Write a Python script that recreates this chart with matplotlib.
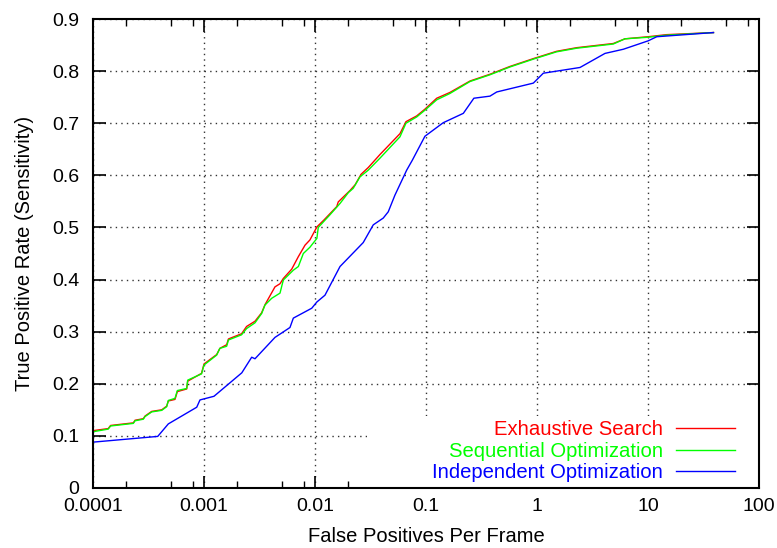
import numpy as np
import matplotlib
matplotlib.use('Agg')
import matplotlib.pyplot as plt
from matplotlib.patches import Rectangle
from matplotlib.ticker import FixedLocator, NullFormatter

plt.rcParams['font.family'] = ['Liberation Sans', 'DejaVu Sans']
plt.rcParams['font.size'] = 14

# exhaustive search
ex_x = [1e-4, 1.37e-4, 1.44e-4, 2.31e-4, 2.39e-4, 2.84e-4, 2.94e-4, 3.38e-4, 4.16e-4, 4.61e-4,
        4.77e-4, 5.48e-4, 5.75e-4, 6.98e-4, 7.13e-4, 9.5e-4, 1.0e-3, 1.3e-3, 1.39e-3, 1.6e-3,
        1.66e-3, 2.18e-3, 2.42e-3, 2.88e-3, 3.3e-3, 3.55e-3, 4.36e-3, 4.84e-3, 5.18e-3, 6.17e-3,
        7.08e-3, 8.13e-3, 9.0e-3, 1.04e-2, 1.2e-2, 1.57e-2, 1.62e-2, 2.07e-2, 2.3e-2, 2.6e-2,
        3.02e-2, 3.85e-2, 5.83e-2, 6.6e-2, 8.24e-2, 9.78e-2, 0.125, 0.164, 0.249, 0.377,
        0.571, 0.927, 1.5, 2.28, 4.87, 6.2, 10, 14.7, 38.9]
ex_y = [0.110, 0.114, 0.120, 0.125, 0.130, 0.133, 0.138, 0.147, 0.150, 0.157,
        0.167, 0.170, 0.185, 0.190, 0.205, 0.220, 0.238, 0.256, 0.268, 0.275,
        0.286, 0.296, 0.310, 0.320, 0.336, 0.352, 0.386, 0.392, 0.402, 0.420,
        0.444, 0.466, 0.476, 0.501, 0.514, 0.540, 0.549, 0.571, 0.582, 0.602,
        0.615, 0.640, 0.680, 0.703, 0.714, 0.727, 0.748, 0.759, 0.781, 0.794,
        0.809, 0.824, 0.838, 0.845, 0.853, 0.862, 0.866, 0.870, 0.874]

# sequential optimization
seq_x = [1e-4, 1.37e-4, 1.44e-4, 2.31e-4, 2.39e-4, 2.84e-4, 2.94e-4, 3.38e-4, 4.16e-4, 4.61e-4,
         4.77e-4, 5.48e-4, 5.75e-4, 6.98e-4, 7.13e-4, 9.5e-4, 1.0e-3, 1.3e-3, 1.39e-3, 1.6e-3,
         1.66e-3, 2.18e-3, 2.42e-3, 2.88e-3, 3.31e-3, 3.54e-3, 4.07e-3, 4.84e-3, 5.18e-3, 6.38e-3,
         7.08e-3, 7.85e-3, 9.0e-3, 1.04e-2, 1.07e-2, 1.36e-2, 1.68e-2, 2.0e-2, 2.21e-2, 2.54e-2,
         3.02e-2, 3.85e-2, 5.83e-2, 6.6e-2, 8.24e-2, 9.78e-2, 0.125, 0.164, 0.249, 0.377,
         0.571, 0.927, 1.5, 2.28, 4.87, 6.2, 10, 14.7, 38.9]
seq_y = [0.108, 0.113, 0.119, 0.124, 0.129, 0.132, 0.137, 0.146, 0.149, 0.156,
         0.168, 0.172, 0.187, 0.191, 0.207, 0.219, 0.236, 0.255, 0.268, 0.272,
         0.284, 0.294, 0.306, 0.317, 0.335, 0.351, 0.364, 0.374, 0.399, 0.418,
         0.425, 0.450, 0.462, 0.479, 0.500, 0.524, 0.546, 0.567, 0.575, 0.597,
         0.610, 0.633, 0.674, 0.700, 0.712, 0.725, 0.745, 0.757, 0.780, 0.793,
         0.808, 0.823, 0.837, 0.844, 0.852, 0.862, 0.865, 0.869, 0.874]

# independent optimization
ind_x = [1e-4, 3.83e-4, 4.77e-4, 8.6e-4, 9.2e-4, 1.23e-3, 2.19e-3, 2.69e-3, 2.88e-3, 4.36e-3,
         5.95e-3, 6.38e-3, 9.35e-3, 1.04e-2, 1.23e-2, 1.68e-2, 2.72e-2, 3.35e-2, 4.12e-2, 4.57e-2,
         5.25e-2, 6.7e-2, 7.53e-2, 9.78e-2, 0.143, 0.217, 0.270, 0.377, 0.434, 0.927,
         1.14, 2.44, 4.1, 6.0, 10, 12, 38.9]
ind_y = [0.088, 0.099, 0.123, 0.155, 0.169, 0.176, 0.221, 0.251, 0.248, 0.289,
         0.308, 0.326, 0.345, 0.357, 0.370, 0.425, 0.471, 0.505, 0.518, 0.530,
         0.562, 0.610, 0.629, 0.675, 0.701, 0.719, 0.748, 0.752, 0.760, 0.777,
         0.796, 0.807, 0.834, 0.842, 0.858, 0.866, 0.874]

xticks = [1e-4, 1e-3, 1e-2, 1e-1, 1, 10, 100]
xticklabels = ['0.0001', '0.001', '0.01', '0.1', '1', '10', '100']
yticks = [0, 0.1, 0.2, 0.3, 0.4, 0.5, 0.6, 0.7, 0.8, 0.9]
yticklabels = ['0', '0.1', '0.2', '0.3', '0.4', '0.5', '0.6', '0.7', '0.8', '0.9']

fig = plt.figure(figsize=(7.77, 5.48), dpi=100)
ax = fig.add_axes([0.1197, 0.1095, 0.8571, 0.8558])

ax.plot(ex_x, ex_y, color='#ff0000', lw=1.0, label='Exhaustive Search')
ax.plot(seq_x, seq_y, color='#00ff00', lw=1.0, label='Sequential Optimization')
ax.plot(ind_x, ind_y, color='#0000ff', lw=1.0, label='Independent Optimization')

ax.set_xscale('log')
ax.set_xlim(1e-4, 100)
ax.set_ylim(0, 0.9)
ax.set_xticks(xticks)
ax.set_xticklabels(xticklabels)
minors = [m * 10.0 ** e for e in range(-4, 2) for m in (2, 5, 8)]
ax.xaxis.set_minor_locator(FixedLocator(minors))
ax.xaxis.set_minor_formatter(NullFormatter())
ax.set_yticks(yticks)
ax.set_yticklabels(yticklabels)

ax.tick_params(which='major', direction='in', length=9, width=1.2, top=True, right=True, pad=7)
ax.tick_params(which='minor', direction='in', length=5, width=1.0, top=True, right=True)
ax.tick_params(axis='y', pad=10)
for s in ax.spines.values():
    s.set_linewidth(1.5)

ax.grid(True, which='major', linestyle=(0, (1, 3)), color='#333333', lw=1.0)

# key area hides the grid
ax.add_patch(Rectangle((0.411, 0.0), 0.589, 0.1535, transform=ax.transAxes,
                       facecolor='white', edgecolor='none', zorder=1.6))

ax.set_xlabel('False Positives Per Frame', labelpad=9, fontsize=14.5)
ax.set_ylabel('True Positive Rate (Sensitivity)', labelpad=13, fontsize=14.5)

leg = ax.legend(loc='lower right', bbox_to_anchor=(0.964, 0.012), borderpad=0,
                borderaxespad=0, frameon=False, markerfirst=False, handlelength=2.9,
                handletextpad=0.65, labelspacing=0.12, labelcolor='linecolor',
                fontsize=14.6)

fig.savefig('out.png', dpi=100)
